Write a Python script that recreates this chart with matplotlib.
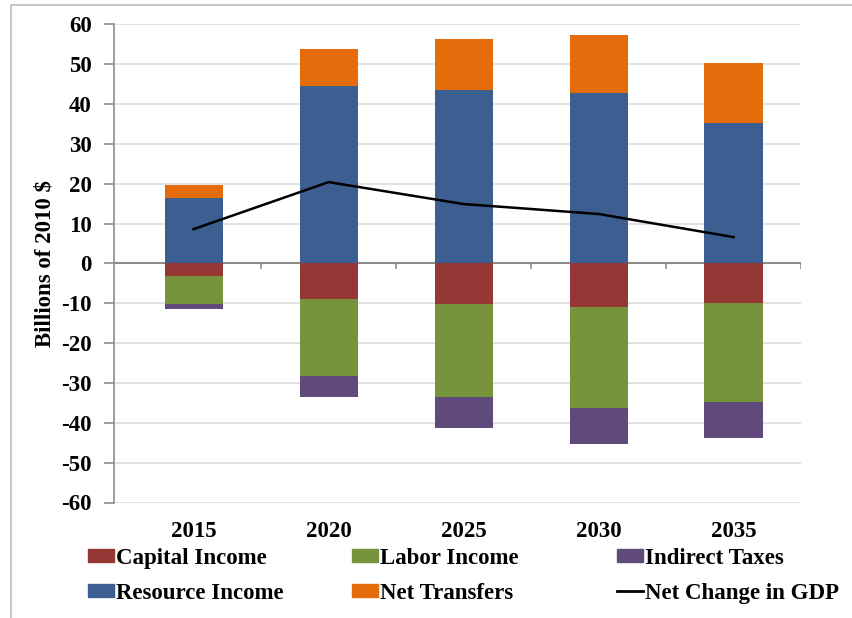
import matplotlib
matplotlib.use('Agg')
import matplotlib.pyplot as plt
from matplotlib.patches import Rectangle, Patch
from matplotlib.lines import Line2D
import numpy as np

plt.rcParams['font.family'] = ['Liberation Serif', 'DejaVu Serif']
plt.rcParams['font.weight'] = 'bold'
plt.rcParams['axes.unicode_minus'] = False

years = ['2015', '2020', '2025', '2030', '2035']
capital_income = [-3.1, -8.9, -10.2, -10.9, -10.0]
labor_income = [-7.0, -19.4, -23.4, -25.5, -24.7]
indirect_taxes = [-1.3, -5.2, -7.8, -8.8, -9.2]
resource_income = [16.4, 44.4, 43.5, 42.7, 35.3]
net_transfers = [3.3, 9.4, 12.8, 14.7, 15.1]
gdp_change = [8.6, 20.4, 14.9, 12.4, 6.6]

c_cap = '#943735'
c_lab = '#77933C'
c_ind = '#604A7B'
c_res = '#3C5E91'
c_net = '#E46C0A'

fig = plt.figure(figsize=(8.53, 6.18), dpi=100)
ax = fig.add_axes([114/853, 1 - 502.5/618, (801 - 114)/853, (502.5 - 24.3)/618])

x = np.arange(len(years))
w = 0.43

# negative side
ax.bar(x, capital_income, w, color=c_cap, zorder=3)
neg1 = np.array(capital_income)
ax.bar(x, labor_income, w, bottom=neg1, color=c_lab, zorder=3)
neg2 = neg1 + np.array(labor_income)
ax.bar(x, indirect_taxes, w, bottom=neg2, color=c_ind, zorder=3)

# positive side
ax.bar(x, resource_income, w, color=c_res, zorder=3)
ax.bar(x, net_transfers, w, bottom=resource_income, color=c_net, zorder=3)

ax.plot(x, gdp_change, color='black', lw=1.8, zorder=4)

ax.set_xlim(-0.59, 4.5)
ax.set_ylim(-60, 60)
ax.set_yticks(range(-60, 61, 10))
ax.yaxis.grid(True, color='#DCDCDC', lw=1.2, zorder=0)
ax.set_axisbelow(True)

for s in ['top', 'right', 'bottom']:
    ax.spines[s].set_visible(False)
ax.spines['left'].set_color('#8C8C8C')
ax.spines['left'].set_linewidth(1.2)
ax.tick_params(axis='y', direction='out', length=7, width=1.2, color='#8C8C8C',
               labelsize=16.5, pad=9)

# category axis sits at zero
ax.axhline(0, color='#8C8C8C', lw=1.5, zorder=2)
ax.vlines(np.arange(0.5, 5, 1), -1.4, 0, color='#8C8C8C', lw=1.2, zorder=2)
ax.set_xticks(x)
ax.set_xticklabels(years)
ax.tick_params(axis='x', length=0, labelsize=16.5, pad=13)

ax.set_ylabel('Billions of 2010 $', fontsize=16.5, fontweight='bold', labelpad=4)

# legend, three columns placed separately
cols = [
    [(Patch(color=c_cap), 'Capital Income'), (Patch(color=c_res), 'Resource Income')],
    [(Patch(color=c_lab), 'Labor Income'), (Patch(color=c_net), 'Net Transfers')],
    [(Patch(color=c_ind), 'Indirect Taxes'), (Line2D([], [], color='black', lw=2), 'Net Change in GDP')],
]
col_x = [88, 352, 617]
for cx, col in zip(col_x, cols):
    fig.legend([h for h, _ in col], [l for _, l in col], loc='upper left',
               bbox_to_anchor=(cx/853, 1 - 548/618), frameon=False,
               fontsize=16.5, borderpad=0, borderaxespad=0,
               handlelength=1.13, handleheight=0.5, handletextpad=0.1,
               labelspacing=0.6)

# outer border of the chart area
fig.patches.append(Rectangle((11/853, -0.1), 1.2, 1 - 5/618 + 0.1,
                             transform=fig.transFigure, fill=False,
                             edgecolor='#C8C8C8', lw=1.5))

fig.savefig('out.png', dpi=100)
